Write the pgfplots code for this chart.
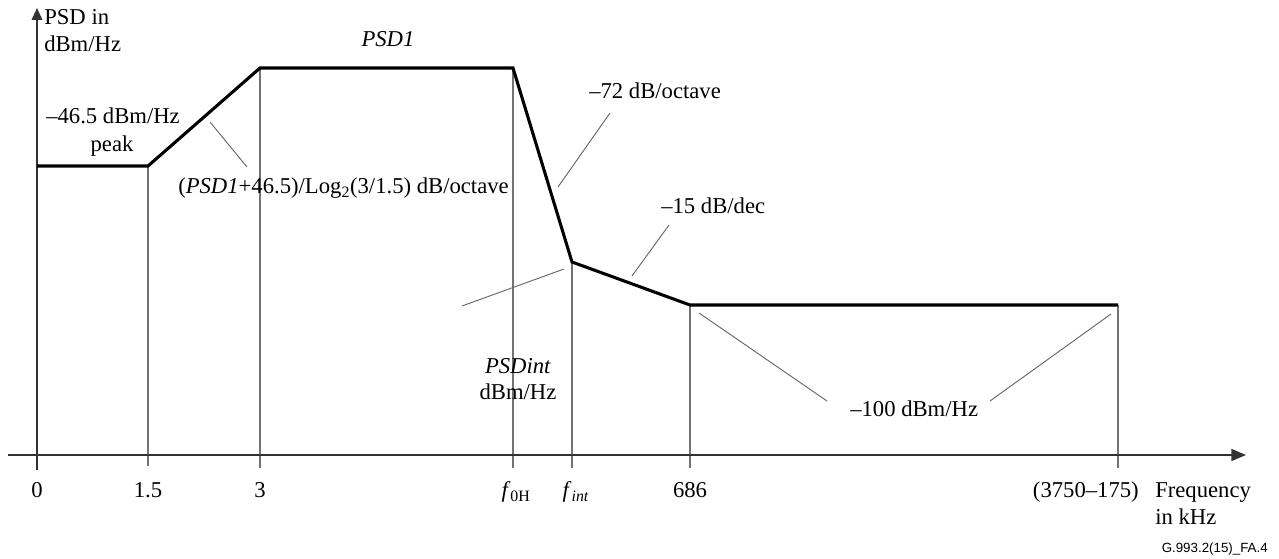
\documentclass[border=0pt]{standalone}
\usepackage{pgfplots}
\pgfplotsset{compat=1.18}
\usepackage{fontspec}
\setmainfont{Liberation Serif}
\newfontfamily\sansfam{Liberation Sans}
\usetikzlibrary{arrows.meta}
\begin{document}
\begin{tikzpicture}[
  lbl/.style={font=\fontsize{17}{20}\selectfont, inner sep=0pt},
  thin/.style={draw=black!55, line width=0.8pt},
  lead/.style={draw=black!60, line width=0.7pt}]
\begin{axis}[
  scale only axis, width=959.25pt, height=419.25pt,
  xmin=0, xmax=1279, ymin=0, ymax=559, y dir=reverse,
  hide axis, clip=false]
\path (axis cs:0,0) rectangle (axis cs:1279,559);
% guide lines
\addplot[thin] coordinates {(148,166)(148,466)};
\addplot[thin] coordinates {(260,68)(260,468)};
\addplot[thin] coordinates {(513,68)(513,468)};
\addplot[thin] coordinates {(572,262)(572,468)};
\addplot[thin] coordinates {(690,305)(690,468)};
\addplot[thin] coordinates {(1118,305)(1118,468)};
% axes
\draw[black!80, line width=1.2pt, -{Triangle[length=9pt,width=8pt]}] (axis cs:37,470) -- (axis cs:37,8);
\draw[black!80, line width=1.2pt, -{Triangle[length=11pt,width=9pt]}] (axis cs:8,455) -- (axis cs:1246,455);
% PSD mask
\addplot[black, line width=2.3pt, line join=miter] coordinates {
(37,166)(148,166)(260,68)(513,68)(572,262)(690,305)(1118,305)};
% leaders
\addplot[lead] coordinates {(210,122)(247,167)};
\addplot[lead] coordinates {(610,113)(558,187)};
\addplot[lead] coordinates {(669,225)(632,276)};
\addplot[lead] coordinates {(462,306)(564,269)};
\addplot[lead] coordinates {(699,313)(827,401)};
\addplot[lead] coordinates {(990,401)(1111,314)};
% texts
\node[lbl, anchor=base west] at (axis cs:44,25) {PSD in};
\node[lbl, anchor=base west] at (axis cs:44,52) {dBm/Hz};
\node[lbl, anchor=base] at (axis cs:388,47) {\textit{PSD1}};
\node[lbl, anchor=base east] at (axis cs:180,124) {–46.5 dBm/Hz};
\node[lbl, anchor=base] at (axis cs:112,152) {peak};
\node[lbl, anchor=base west] at (axis cs:178,194) {(\textit{PSD1}+46.5)/Log\textsubscript{2}(3/1.5) dB/octave};
\node[lbl, anchor=base west] at (axis cs:589,99) {–72 dB/octave};
\node[lbl, anchor=base west] at (axis cs:661,214) {–15 dB/dec};
\node[lbl, anchor=base] at (axis cs:518,374) {\textit{PSDint}};
\node[lbl, anchor=base] at (axis cs:518,400) {dBm/Hz};
\node[lbl, anchor=base west] at (axis cs:850,417) {–100 dBm/Hz};
% tick labels
\node[lbl, anchor=base] at (axis cs:37,498) {0};
\node[lbl, anchor=base] at (axis cs:148,498) {1.5};
\node[lbl, anchor=base] at (axis cs:260,498) {3};
\node[lbl, anchor=base] at (axis cs:516,498) {\textit{f}\textsubscript{0H}};
\node[lbl, anchor=base] at (axis cs:576,498) {\textit{f}\textsubscript{\textit{int}}};
\node[lbl, anchor=base] at (axis cs:690,498) {686};
\node[lbl, anchor=base east] at (axis cs:1139,498) {(3750–175)};
\node[lbl, anchor=base west] at (axis cs:1155,498) {Frequency};
\node[lbl, anchor=base west] at (axis cs:1155,525) {in kHz};
\node[anchor=base east, inner sep=0pt, font=\sansfam\fontsize{10}{12}\selectfont] at (axis cs:1268,552) {G.993.2(15)\_FA.4};
\end{axis}
\end{tikzpicture}
\end{document}
